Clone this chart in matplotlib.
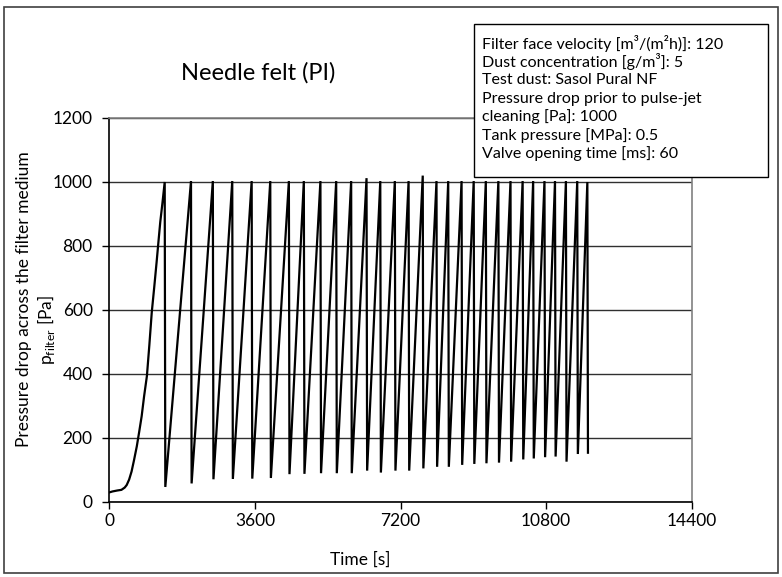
import matplotlib.pyplot as plt
from matplotlib.patches import Rectangle

plt.rcParams['font.family'] = ['Lato', 'DejaVu Sans']

# Anfangsphase (Aufbau des Filterkuchens bis zur ersten Abreinigung)
start_time = [0, 80, 200, 300, 380, 430, 490, 550, 610, 680, 740, 800,
              860, 930, 990, 1050, 1110, 1170, 1220, 1260, 1310]
start_dp = [30, 33, 36, 38, 45, 53, 70, 95, 130, 174, 220, 268,
            330, 394, 490, 593, 670, 750, 820, 875, 930]

# Abreinigungszeitpunkte [s], Druckverlust davor und danach [Pa]
clean_time = [1370, 2020, 2560, 3040, 3520, 3980, 4440, 4810, 5220, 5610,
              5980, 6360, 6700, 7060, 7400, 7750, 8090, 8380, 8710, 9010,
              9310, 9620, 9920, 10220, 10480, 10760, 11020, 11290, 11570, 11820]
peak_dp = [1000, 1003, 1003, 1003, 1003, 1003, 1003, 1003, 1003, 1003,
           1003, 1012, 1003, 1003, 1003, 1020, 1003, 1003, 1003, 1003,
           1003, 1003, 1003, 1003, 1003, 1003, 1003, 1003, 1003, 1000]
trough_dp = [47, 58, 71, 72, 73, 75, 87, 88, 90, 90,
             90, 98, 92, 98, 98, 105, 110, 110, 116, 119,
             121, 123, 126, 133, 136, 140, 142, 126, 150, 154]

info_lines = [
    "Filter face velocity [m³/(m²h)]: 120",
    "Dust concentration [g/m³]: 5",
    "Test dust: Sasol Pural NF",
    "Pressure drop prior to pulse-jet",
    "cleaning [Pa]: 1000",
    "Tank pressure [MPa]: 0.5",
    "Valve opening time [ms]: 60",
]

# Verlauf zusammensetzen: Anstieg bis Peak, dann senkrechter Abfall
t = list(start_time)
dp = list(start_dp)
for tc, pk, tr in zip(clean_time, peak_dp, trough_dp):
    t += [tc, tc + 15]
    dp += [pk, tr]

fig = plt.figure(figsize=(7.82, 5.77), dpi=100)
ax = fig.add_axes([109.3 / 782, 1 - 502 / 577, (691.7 - 109.3) / 782, (502 - 118) / 577])

ax.plot(t, dp, color='black', lw=1.6, solid_joinstyle='miter')

ax.set_xlim(0, 14400)
ax.set_ylim(0, 1200)
ax.set_xticks([0, 3600, 7200, 10800, 14400])
ax.set_yticks(range(0, 1201, 200))
ax.tick_params(axis='both', labelsize=12.5, length=5, width=1, color='black', direction='out')
ax.tick_params(axis='y', pad=7)
ax.tick_params(axis='x', pad=3)

ax.grid(axis='y', color='#303030', lw=1)
ax.set_axisbelow(True)
for side in ['left', 'bottom']:
    ax.spines[side].set_color('black')
    ax.spines[side].set_linewidth(1.2)
for side in ['top', 'right']:
    ax.spines[side].set_color('#808080')
    ax.spines[side].set_linewidth(1.2)

# Achsenbeschriftungen
fig.text(360 / 782, 1 - 560 / 577, "Time [s]", ha='center', va='center', fontsize=12.5)
fig.text(24 / 782, 1 - 299 / 577, "Pressure drop across the filter medium",
         ha='center', va='center', rotation=90, fontsize=12.5)
fig.text(46 / 782, 1 - 330 / 577, r"p$_{\mathregular{filter}}$ [Pa]",
         ha='center', va='center', rotation=90, fontsize=12.5)

fig.text(258 / 782, 1 - 73 / 577, "Needle felt (PI)", ha='center', va='center', fontsize=17)

# Infobox mit Versuchsparametern
fig.patches.append(Rectangle((474 / 782, 1 - 177 / 577), (768 - 474) / 782, (177 - 24) / 577,
                             transform=fig.transFigure, facecolor='white',
                             edgecolor='black', lw=1, zorder=5))
for i, line in enumerate(info_lines):
    fig.text(482 / 782, 1 - (43 + i * 18.5) / 577, line, ha='left', va='center',
             fontsize=11.5, zorder=6)

# Rahmen um die gesamte Grafik
fig.patches.append(Rectangle((4 / 782, 1 - 573 / 577), 774 / 782, 566 / 577,
                             transform=fig.transFigure, fill=False,
                             edgecolor='#404040', lw=1.2))

fig.savefig('out.png', dpi=100)
